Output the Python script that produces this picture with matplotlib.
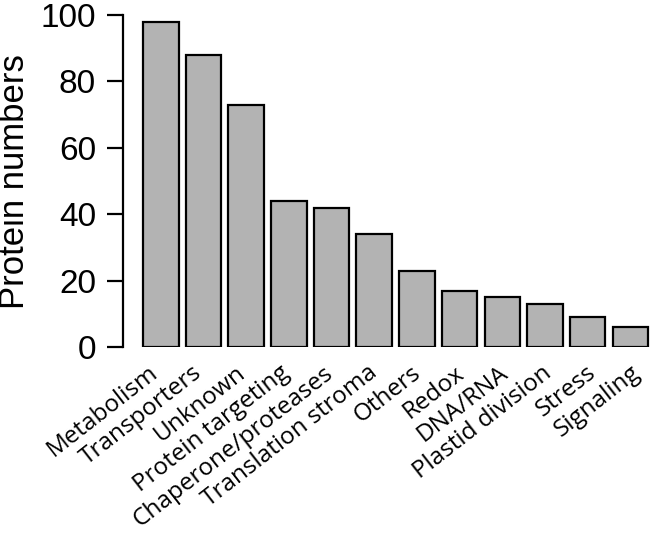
import matplotlib
matplotlib.use("Agg")
import matplotlib.pyplot as plt
import numpy as np

categories = ["Metabolism", "Transporters", "Unknown", "Protein targeting",
              "Chaperone/proteases", "Translation stroma", "Others", "Redox",
              "DNA/RNA", "Plastid division", "Stress", "Signaling"]
counts = [98, 88, 73, 44, 42, 34, 23, 17, 15, 13, 9, 6]
yticks = [0, 20, 40, 60, 80, 100]

fig = plt.figure(figsize=(6.5, 5.34), dpi=100)
ax = fig.add_axes([123 / 650, 187 / 534, 527 / 650, 332 / 534])

x = np.arange(len(categories))
ax.bar(x, counts, width=1 / 1.2, color="#b3b3b3", edgecolor="black", linewidth=1.6)

ax.set_xlim(-0.885, 11.46)
ax.set_ylim(0, 100)
ax.set_yticks(yticks)
ax.set_xticks([])
for s in ["top", "right", "bottom"]:
    ax.spines[s].set_visible(False)
ax.spines["left"].set_bounds(0, 100)
ax.spines["left"].set_linewidth(1.6)
ax.tick_params(axis="y", length=11.5, width=1.6, pad=8, labelsize=24)
for lab in ax.get_yticklabels():
    lab.set_fontfamily("Liberation Sans")

fig.text(15 / 650, 1 - 182 / 534, "Protein numbers", rotation=90,
         ha="center", va="center", fontsize=25, family="Liberation Sans")

# rotated category labels, right end just under each bar
for i, name in enumerate(categories):
    ax.text(x[i] * 1.025 - 0.12, -0.07, name, transform=ax.get_xaxis_transform(),
            rotation=38, rotation_mode="anchor", ha="right", va="center",
            fontsize=17.5, family="Open Sans", clip_on=False)

fig.savefig("out.png", dpi=100)
